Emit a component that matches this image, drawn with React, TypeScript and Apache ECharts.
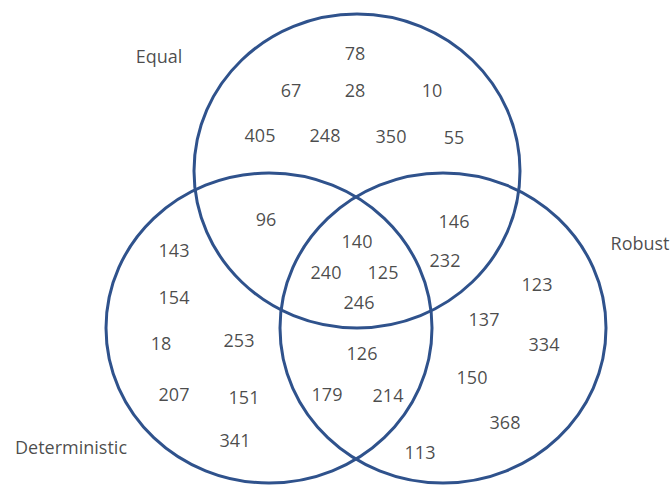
import React, { useEffect, useRef } from "react";
import * as echarts from "echarts";

// Sets (ellipses) in picture coordinates
const setNames = ["Equal", "Deterministic", "Robust"];
const setCx = [357, 269, 443];
const setCy = [171, 328, 328];
const setRx = [163, 163, 163];
const setRy = [157, 155, 155];
const setLabelX = [159, 71, 640];
const setLabelY = [56, 447, 243];

// Region counts and their placement
const values = [78, 67, 28, 10, 405, 248, 350, 55, 96, 146, 140, 143, 232, 240, 125, 123, 154, 246, 137, 18, 253, 334, 126, 150, 207, 151, 179, 214, 368, 341, 113];
const valueX = [355, 291, 355, 432, 260, 325, 391, 454, 266, 454, 357, 174, 445, 326, 383, 537, 174, 359, 484, 161, 239, 544, 362, 472, 174, 244, 327, 388, 505, 235, 420];
const valueY = [53, 90, 90, 90, 135, 135, 136, 137, 219, 221, 241, 250, 260, 272, 272, 284, 297, 302, 319, 343, 340, 344, 353, 377, 394, 397, 394, 395, 422, 440, 452];

const W = 672;
const H = 485;

export default function App() {
  const ref = useRef<HTMLDivElement>(null);
  useEffect(() => {
    document.body.style.margin = "0";
    const chart = echarts.init(ref.current!, null, { renderer: "svg" });
    const font = "'Open Sans', 'DejaVu Sans', sans-serif";
    chart.setOption({
      animation: false,
      backgroundColor: "#ffffff",
      grid: { left: 0, right: 0, top: 0, bottom: 0 },
      xAxis: { type: "value", min: 0, max: W, show: false },
      yAxis: { type: "value", min: 0, max: H, inverse: true, show: false },
      series: [
        {
          type: "custom",
          data: setNames.map((n, i) => ({ name: n, value: [setCx[i], setCy[i], setRx[i], setRy[i]] })),
          renderItem: (params: any, api: any) => {
            const c = api.coord([api.value(0), api.value(1)]);
            const s = api.size([api.value(2), api.value(3)]);
            return {
              type: "ellipse",
              shape: { cx: c[0], cy: c[1], rx: s[0], ry: s[1] },
              style: { fill: "none", stroke: "#2f528c", lineWidth: 3 },
            };
          },
          silent: true,
          z: 1,
        },
        {
          type: "scatter",
          symbolSize: 1,
          itemStyle: { color: "rgba(0,0,0,0)" },
          data: values.map((v, i) => [valueX[i], valueY[i], v]),
          label: {
            show: true,
            position: "inside",
            formatter: (p: any) => String(p.value[2]),
            fontFamily: font,
            fontSize: 18,
            color: "#1c1c1c",
          },
          z: 2,
        },
        {
          type: "scatter",
          symbolSize: 1,
          itemStyle: { color: "rgba(0,0,0,0)" },
          data: setNames.map((n, i) => ({ name: n, value: [setLabelX[i], setLabelY[i]] })),
          label: {
            show: true,
            position: "inside",
            formatter: (p: any) => p.name,
            fontFamily: font,
            fontSize: 18,
            color: "#1c1c1c",
          },
          z: 2,
        },
      ],
    });
    return () => chart.dispose();
  }, []);
  return <div ref={ref} style={{ width: W, height: H }} />;
}
